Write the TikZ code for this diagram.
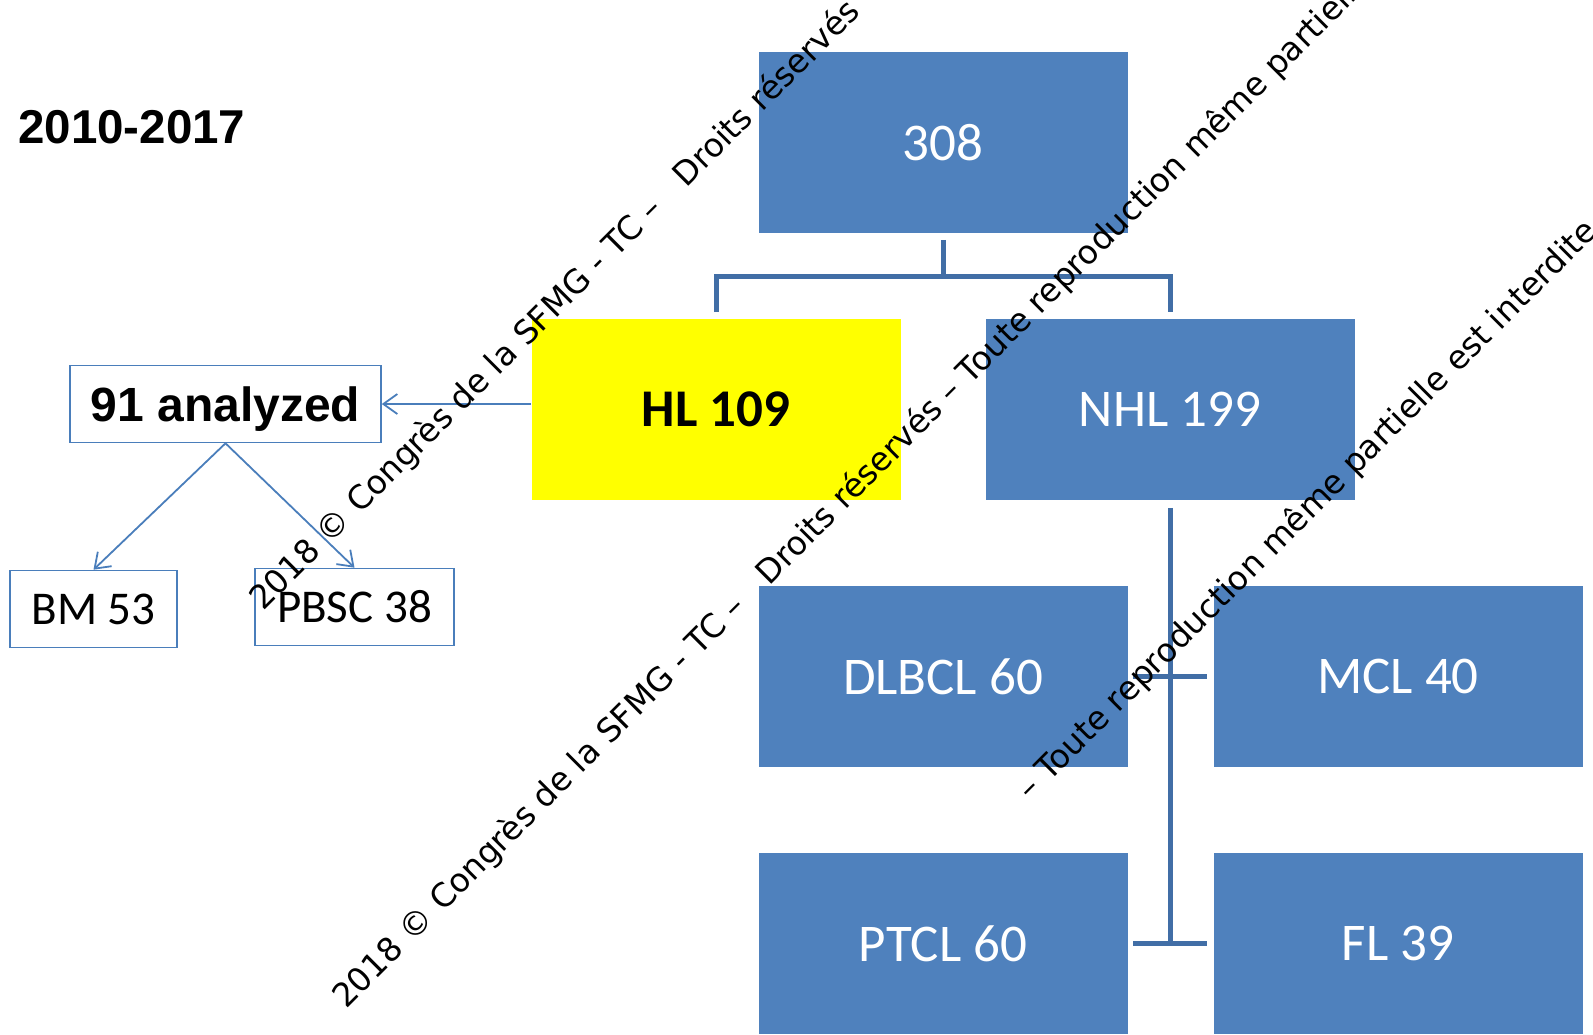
\documentclass[tikz,border=0pt]{standalone}
\usepackage{fontspec}
\setmainfont{Carlito}
\newfontfamily\arialfont{Liberation Sans}
\newfontfamily\wmfont{DejaVu Sans}
\usetikzlibrary{positioning,arrows.meta,calc}
\definecolor{boxblue}{HTML}{4F81BD}
\definecolor{hlyellow}{HTML}{FFFF00}
\definecolor{treeblue}{HTML}{416EA6}
\definecolor{lineblue}{HTML}{4A7EBB}
\tikzset{
  bluebox/.style={fill=boxblue,draw=white,line width=0.8pt,minimum width=370pt,minimum height=182pt,
    text=white,font=\fontsize{53}{60}\selectfont},
  hlbox/.style={bluebox,fill=hlyellow,text=black,font=\fontsize{53}{60}\selectfont\bfseries},
  smallbox/.style={draw=lineblue,line width=1.6pt,fill=white,minimum height=77pt,font=\fontsize{47}{54}\selectfont},
  tree/.style={draw=treeblue,line width=5pt},
  link/.style={draw=lineblue,line width=1.8pt,->},
  wmark/.style={rotate=45,anchor=base west,inner sep=0pt,font=\wmfont\fontsize{32.8}{36}\selectfont}
}

\begin{document}
\begin{tikzpicture}[x=1pt,y=-1pt,>={Straight Barb[length=14pt,width=20pt]}]
    \useasboundingbox (0,0) rectangle (1593,1034);
    \clip (0,0) rectangle (1593,1034);
    \node[anchor=base west,inner sep=0pt,font=\arialfont\bfseries\fontsize{47.5}{52}\selectfont] (period) at (18,143) {2010-2017};
    % tree of cases
    \node[bluebox] (all) at (943,142.5) {308};
    \node[hlbox] (hl) at (716,409.5) {HL 109};
    \node[bluebox] (nhl) at (1170,409.5) {NHL 199};
    \node[bluebox] (dlbcl) at (943,676.5) {DLBCL 60};
    \node[bluebox] (mcl) at (1398,676.5) {MCL 40};
    \node[bluebox] (ptcl) at (943,943.5) {PTCL 60};
    \node[bluebox] (fl) at (1398,943.5) {FL 39};
    \draw[tree] ([yshift=-6pt]all.south) -- ([yshift=-43pt]all.south);
    \draw[tree] ([yshift=6pt]hl.north) |- ([yshift=-43pt]all.south) -| ([yshift=6pt]nhl.north);
    \draw[tree] ([yshift=-7pt]nhl.south) -- (nhl.south |- ptcl.east);
    \draw[tree] ([xshift=5pt]dlbcl.east) -- ([xshift=-6pt]mcl.west);
    \draw[tree] ([xshift=5pt]ptcl.east) -- ([xshift=-6pt]fl.west);
    % HL samples
    \node[smallbox,minimum width=311pt,text height=34pt,text depth=0pt,
      font=\arialfont\bfseries\fontsize{48}{54}\selectfont] (ana) at (225.5,404) {91 analyzed};
    \node[smallbox,minimum width=167pt] (bm) at (93.5,609) {BM 53};
    \node[smallbox,minimum width=199pt] (pbsc) at (354.5,607) {PBSC 38};
    \draw[link] (hl.west |- ana.east) -- (ana.east);
    \draw[link] (ana.south) -- (bm.north);
    \draw[link] (ana.south) -- (pbsc.north);
    % watermark
    \node[wmark] (wm1) at (263,612) {2018 © Congrès de la SFMG - TC –\ \ \ Droits réservés};
    \node[wmark] (wm2) at (346,1010) {2018 © Congrès de la SFMG - TC –\ \ \ Droits réservés – Toute reproduction même partielle est interdite};
    \node[wmark] (wm3) at (1030,802) {– Toute reproduction même partielle est interdite};
  \end{tikzpicture}
\end{document}
